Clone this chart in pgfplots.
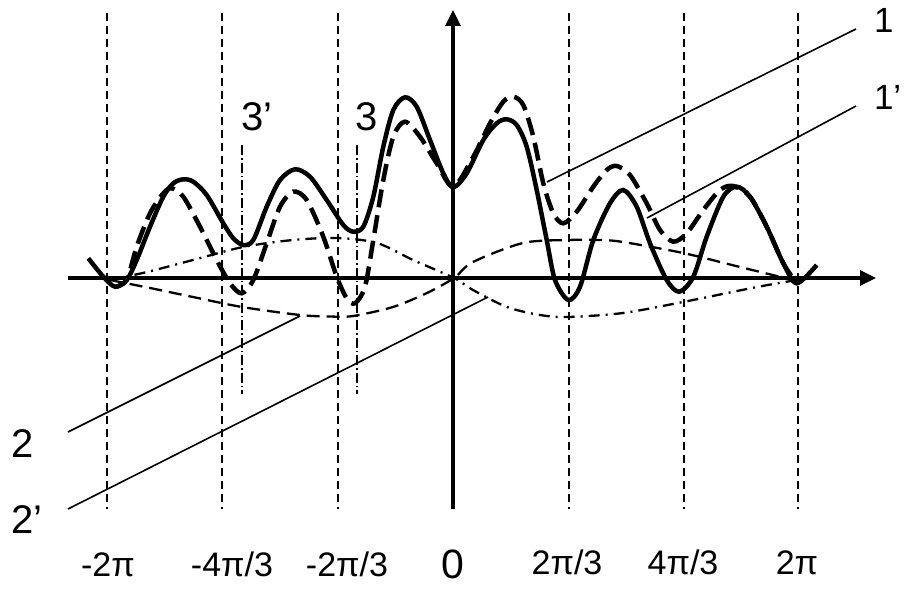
\documentclass[border=0pt]{standalone}
\usepackage{pgfplots}
\pgfplotsset{compat=1.18}
\usepackage{fontspec}
\setmainfont{Liberation Sans}
\usetikzlibrary{arrows.meta}
\begin{document}
\begin{tikzpicture}[
  vgrid/.style={black, line width=1.5bp, dash pattern=on 8bp off 5bp},
  vdd/.style={black, line width=1.4bp, dash pattern=on 10bp off 3bp on 1.5bp off 3bp},
  ptr/.style={black, line width=1.6bp},
  tl/.style={anchor=base, inner sep=0pt, outer sep=0pt, font=\fontsize{34bp}{40bp}\selectfont},
  lb/.style={anchor=base west, inner sep=0pt, outer sep=0pt, font=\fontsize{40bp}{46bp}\selectfont},
]
\useasboundingbox (0,0) rectangle (904bp,591bp);
\begin{axis}[
  hide axis, scale only axis, width=904bp, height=591bp,
  at={(0,0)}, anchor=south west,
  xmin=0, xmax=904, ymin=0, ymax=591, y dir=reverse,
  clip=false,
]
% vertical dashed grid lines
\addplot[vgrid] coordinates {(107,13) (107,509)};
\addplot[vgrid] coordinates {(222,13) (222,509)};
\addplot[vgrid] coordinates {(338,13) (338,509)};
\addplot[vgrid] coordinates {(569,13) (569,509)};
\addplot[vgrid] coordinates {(684,13) (684,509)};
\addplot[vgrid] coordinates {(798,13) (798,509)};
% short dash-dot verticals (3', 3)
\addplot[vdd] coordinates {(242,145) (242,394)};
\addplot[vdd] coordinates {(357,145) (357,394)};
% axes
\addplot[black, line width=3.3bp, -{Triangle[length=16bp,width=15bp]}] coordinates {(68,278) (876,278)};
\addplot[black, line width=3.3bp, -{Triangle[length=16bp,width=15bp]}] coordinates {(453,509) (453,10)};
% pointer lines
\addplot[ptr] coordinates {(547,182) (856,29)};
\addplot[ptr] coordinates {(647,218) (856,106)};
\addplot[ptr] coordinates {(68,432) (300,316)};
\addplot[ptr] coordinates {(68,509) (488,297)};
% thin dashed curve
\addplot[black, line width=2.3bp, dash pattern=on 13bp off 7bp, smooth] coordinates {
(110,280) (150,288) (193,297) (242,307) (300,315) (330,316.5) (353,316) (393,307) (427,293) (454,278)
(473,262) (523,243) (568,240) (600,240) (623,242) (683,253) (740,267) (797,281)};
% dash-dot curve
\addplot[black, line width=2.3bp, dash pattern=on 11bp off 6bp on 2bp off 6bp, smooth] coordinates {
(110,280) (147,272) (193,260) (243,247) (293,240) (337,238) (377,243) (413,260) (454,278)
(473,290) (507,307) (540,315) (568,317) (623,313) (683,302) (757,287) (797,280)};
% thick dashed curve (1')
\addplot[black, line width=4.5bp, dash pattern=on 18bp off 8bp, smooth] coordinates {
(115,287) (126.7,280) (136.7,246.7) (150,213.3) (163.3,193.3) (171.7,188.3) (183.3,196.7)
(200,226.7) (216.7,260) (230,283.3) (241.7,293.3) (253.3,280) (266.7,243.3) (280,206.7)
(293.3,191.7) (306.7,200) (323.3,236.7) (336.7,276.7) (346.7,298.3) (355,303.3) (365,286.7)
(373.3,240) (383.3,180) (393.3,136.7) (405,121.7) (420,136.7) (436.7,163.3) (453.3,186.7)
(473.3,156.7) (490,123.3) (503.3,101.7) (513.3,96.7) (523.3,105) (533.3,136.7) (543.3,183.3)
(553.3,213.3) (563.3,223.3) (576.7,211.7) (593.3,186.7) (606.7,170) (616.7,166) (630,175)
(646.7,203.3) (660,230) (673.3,241.7) (686.7,233.3) (703.3,210) (720,190) (733.3,186)
(750,196.7) (766.7,226.7) (783.3,263.3) (796.7,283.3)};
% solid curve (1)
\addplot[black, line width=4.5bp, smooth] coordinates {
(88.3,258.3) (103.3,276.7) (115,286.7) (126.7,280) (136.7,260) (150,226.7) (163.3,196.7)
(173.3,183.3) (183.3,179.3) (193.3,181.7) (206.7,195) (223.3,223.3) (233.3,238.3) (243.3,245)
(253.3,240) (266.7,206.7) (280,180) (295,169.3) (310,176.7) (326.7,200) (343.3,225)
(353.3,231.7) (363.3,226.7) (373.3,196.7) (383.3,146.7) (393.3,110) (405,97.3) (416.7,106.7)
(430,140) (443.3,173.3) (453.3,187.3) (466.7,173.3) (483.3,140) (496.7,123.3) (506.7,119.3)
(516.7,125) (526.7,146.7) (536.7,190) (546.7,240) (555,280) (568.3,300) (580,286.7)
(593.3,240) (610,203.3) (623.3,190) (636.7,206.7) (650,243.3) (666.7,280) (679.3,291.7)
(693.3,276.7) (706.7,236.7) (723.3,196.7) (736.7,186.7) (750,196.7) (766.7,226.7)
(783.3,263.3) (796.7,283.3) (816.7,265)};
% labels
\node[lb, font=\fontsize{35bp}{40bp}\selectfont] at (axis cs:874,33) {1};
\node[lb, font=\fontsize{35bp}{40bp}\selectfont] at (axis cs:874,110) {1’};
\node[lb] at (axis cs:11,457) {2};
\node[lb] at (axis cs:11,533) {2’};
\node[lb] at (axis cs:241,130) {3’};
\node[lb] at (axis cs:355,130) {3};
% tick labels
\node[tl] at (axis cs:108,576) {-2π};
\node[tl] at (axis cs:232,576) {-4π/3};
\node[tl] at (axis cs:347,576) {-2π/3};
\node[tl, font=\fontsize{41bp}{46bp}\selectfont] at (axis cs:453,578) {0};
\node[tl] at (axis cs:567,574) {2π/3};
\node[tl] at (axis cs:683,574) {4π/3};
\node[tl] at (axis cs:797,574) {2π};
\end{axis}
\end{tikzpicture}
\end{document}
